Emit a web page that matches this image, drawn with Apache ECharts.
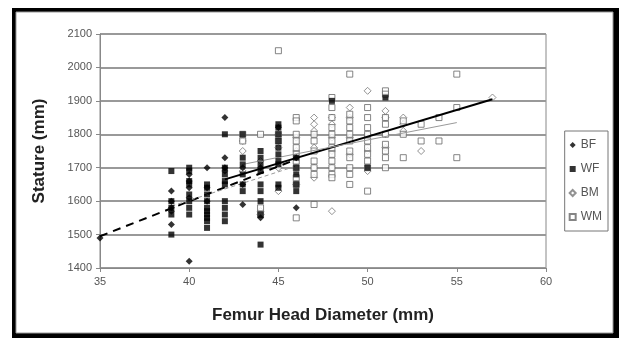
<!DOCTYPE html>
<html>
<head>
<meta charset="UTF-8">
<title>Stature vs Femur Head Diameter</title>
<script src="https://cdn.jsdelivr.net/npm/echarts@6/dist/echarts.min.js"></script>
<style>
html,body{margin:0;padding:0;background:#fff;}
</style>
</head>
<body>
<div id="main" style="width:623px;height:346px"></div>
<script>
// [diameter, stature] pairs
var bfData = [
  [35,1490],[39,1630],[39,1600],[39,1580],[39,1570],[39,1530],
  [40,1420],[40,1680],[40,1660],[40,1640],[40,1610],
  [41,1700],[41,1640],[41,1600],
  [42,1850],[42,1730],[42,1700],[42,1690],
  [43,1590],[43,1650],[43,1700],
  [44,1550],[44,1700],[45,1820],[46,1580],[46,1730]
];
var wfData = [
  [39,1690],[39,1600],[39,1580],[39,1560],[39,1500],
  [40,1700],[40,1690],[40,1660],[40,1650],[40,1620],[40,1600],[40,1580],[40,1560],
  [41,1650],[41,1640],[41,1620],[41,1600],[41,1580],[41,1570],[41,1560],[41,1550],[41,1540],[41,1520],
  [42,1800],[42,1700],[42,1680],[42,1660],[42,1650],[42,1600],[42,1580],[42,1560],[42,1540],
  [43,1800],[43,1730],[43,1710],[43,1680],[43,1650],[43,1630],
  [44,1750],[44,1730],[44,1710],[44,1690],[44,1650],[44,1630],[44,1600],[44,1560],[44,1470],
  [45,1830],[45,1820],[45,1800],[45,1780],[45,1760],[45,1740],[45,1720],[45,1710],[45,1650],[45,1640],
  [46,1730],[46,1700],[46,1680],[46,1650],[46,1630],
  [48,1900],[50,1700],[51,1910]
];
var bmData = [
  [43,1780],[43,1750],[43,1690],[44,1570],[44,1560],[44,1720],
  [45,1630],[45,1700],[45,1760],[45,1800],
  [46,1650],[46,1700],[46,1750],[46,1790],
  [47,1850],[47,1830],[47,1810],[47,1760],[47,1700],[47,1670],
  [48,1850],[48,1830],[48,1790],[48,1750],[48,1700],[48,1570],
  [49,1880],[49,1850],[49,1790],[49,1740],
  [50,1930],[50,1800],[50,1750],[50,1690],
  [51,1870],[51,1850],[51,1800],[51,1760],
  [52,1850],[52,1830],[52,1810],[53,1750],[57,1910]
];
var wmData = [
  [43,1800],[43,1780],[44,1800],[44,1580],[44,1560],
  [45,2050],[45,1800],[45,1780],
  [46,1850],[46,1840],[46,1800],[46,1780],[46,1760],[46,1740],[46,1720],[46,1700],[46,1670],[46,1650],[46,1550],
  [47,1800],[47,1780],[47,1750],[47,1720],[47,1700],[47,1680],[47,1590],
  [48,1910],[48,1880],[48,1850],[48,1820],[48,1800],[48,1780],[48,1760],[48,1740],[48,1720],[48,1700],[48,1680],[48,1670],
  [49,1980],[49,1860],[49,1840],[49,1820],[49,1800],[49,1780],[49,1750],[49,1730],[49,1700],[49,1680],[49,1650],
  [50,1880],[50,1850],[50,1820],[50,1800],[50,1780],[50,1760],[50,1740],[50,1720],[50,1700],[50,1630],
  [51,1930],[51,1920],[51,1850],[51,1830],[51,1800],[51,1770],[51,1750],[51,1730],[51,1700],
  [52,1840],[52,1800],[52,1730],[53,1830],[53,1780],[54,1850],[54,1780],
  [55,1980],[55,1880],[55,1730]
];
// trend line end points
var bfTrend = [[35,1495],[46,1725]];
var wfTrend = [[39,1585],[46,1705]];
var bmTrend = [[42,1665],[57,1905]];
var wmTrend = [[43,1710],[55,1835]];

var chart = echarts.init(document.getElementById('main'));

function trend(data, color, width, type) {
  return {
    type: 'line', data: data, symbol: 'none', silent: true,
    lineStyle: { color: color, width: width, type: type },
    z: 3
  };
}

chart.setOption({
  animation: false,
  textStyle: { fontFamily: 'Liberation Sans, Arial, sans-serif' },
  graphic: [
    { type: 'rect', shape: { x: 12, y: 8, width: 607, height: 330 }, style: { fill: '#000' }, z: -10 },
    { type: 'rect', shape: { x: 16, y: 12, width: 597, height: 321 }, style: { fill: '#fff', stroke: '#999', lineWidth: 1 }, z: -9 }
  ],
  grid: { left: 100, right: 77, top: 34, bottom: 78, show: true, borderColor: '#888', borderWidth: 1, backgroundColor: 'transparent' },
  legend: {
    orient: 'vertical', right: 15, top: 131,
    width: 42, itemGap: 12, itemWidth: 6, itemHeight: 6,
    padding: [8, 6, 8, 4],
    borderColor: '#777', borderWidth: 1,
    textStyle: { fontSize: 12, color: '#555' },
    data: ['BF', 'WF', 'BM', 'WM']
  },
  xAxis: {
    type: 'value', min: 35, max: 60, interval: 5,
    name: 'Femur Head Diameter (mm)', nameLocation: 'middle', nameGap: 39,
    nameTextStyle: { fontSize: 17, fontWeight: 'bold', color: '#222' },
    axisLine: { lineStyle: { color: '#888' } },
    axisTick: { show: true, length: 4, lineStyle: { color: '#888' } },
    axisLabel: { fontSize: 11, color: '#555' },
    splitLine: { show: false }
  },
  yAxis: {
    type: 'value', min: 1400, max: 2100, interval: 100,
    name: 'Stature (mm)', nameLocation: 'middle', nameGap: 52,
    nameTextStyle: { fontSize: 17, fontWeight: 'bold', color: '#222' },
    axisLine: { show: true, lineStyle: { color: '#888' } },
    axisTick: { show: true, length: 4, lineStyle: { color: '#888' } },
    axisLabel: { fontSize: 11, color: '#555', formatter: function (v) { return String(v); } },
    splitLine: { show: true, lineStyle: { color: '#999', width: 2 } }
  },
  series: [
    { name: 'BF', type: 'scatter', data: bfData, symbol: 'diamond', symbolSize: 7,
      itemStyle: { color: '#000' }, z: 4 },
    { name: 'WF', type: 'scatter', data: wfData, symbol: 'rect', symbolSize: 6,
      itemStyle: { color: '#000' }, z: 4 },
    { name: 'BM', type: 'scatter', data: bmData, symbol: 'diamond', symbolSize: 7,
      itemStyle: { color: '#fff', borderColor: '#777', borderWidth: 1 }, z: 2 },
    { name: 'WM', type: 'scatter', data: wmData, symbol: 'rect', symbolSize: 6,
      itemStyle: { color: '#fff', borderColor: '#666', borderWidth: 1 }, z: 2 },
    trend(bfTrend, '#000', 2, [8, 6]),
    trend(wfTrend, '#999', 1, [4, 3]),
    trend(bmTrend, '#000', 2, 'solid'),
    trend(wmTrend, '#999', 1, 'solid')
  ]
});
</script>
</body>
</html>
